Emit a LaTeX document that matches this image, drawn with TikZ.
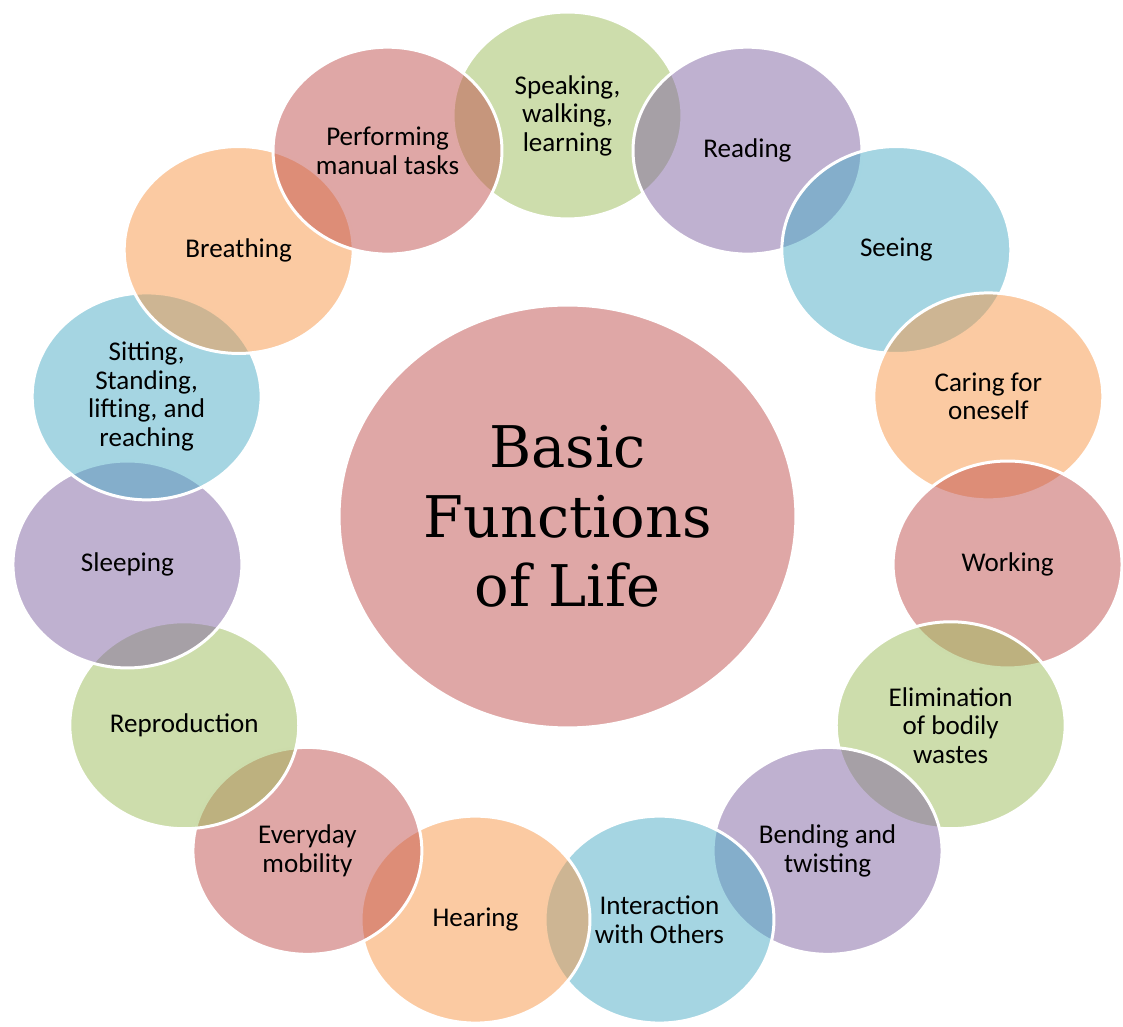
\documentclass[tikz,border=0pt]{standalone}
\usepackage{fontspec}
\setmainfont{Carlito}
\newfontfamily\centrefont{DejaVu Serif}
\usetikzlibrary{shapes.geometric}

\definecolor{accred}{HTML}{C0504D}
\definecolor{accgreen}{HTML}{9BBB59}
\definecolor{accpurple}{HTML}{8064A2}
\definecolor{accaqua}{HTML}{4BACC6}
\definecolor{accorange}{HTML}{F79646}

\begin{document}
\begin{tikzpicture}[x = 0.02cm, y = 0.02cm,
	bubble/.style = {ellipse, draw = white, line width = 1.7pt, fill opacity = 0.5, text opacity = 1,
		minimum width = 4.58cm, minimum height = 4.14cm, inner sep = 0pt, align = center,
		font = \fontsize{15.4pt}{16.2pt}\selectfont},
	hub/.style = {ellipse, draw = white, line width = 1.7pt, fill = accred, fill opacity = 0.5, text opacity = 1,
		minimum width = 9.14cm, minimum height = 8.46cm, inner sep = 0pt, align = center,
		font = \centrefont\fontsize{32.7pt}{39.7pt}\selectfont}]

	% Frame

	\useasboundingbox (-567.5, -505) rectangle (555.5, 522);

	% Centre

	\node [hub] (life) at (0, 5.5) {Basic\\Functions\\of Life};

	% Ring

	\foreach \ang/\col/\i/\txt in {
		90/accgreen/1/{Speaking,\\walking,\\learning},
		66/accpurple/2/{Reading},
		42/accaqua/3/{Seeing},
		18/accorange/4/{Caring for\\oneself},
		-6/accred/5/{Working},
		-30/accgreen/6/{Elimination\\of bodily\\wastes},
		-54/accpurple/7/{Bending and\\twisting},
		-78/accaqua/8/{Interaction\\with Others},
		-102/accorange/9/{Hearing},
		-126/accred/10/{Everyday\\mobility},
		-150/accgreen/11/{Reproduction},
		-174/accpurple/12/{Sleeping},
		-198/accaqua/13/{Sitting,\\Standing,\\lifting, and\\reaching},
		-222/accorange/14/{Breathing},
		-246/accred/15/{Performing\\manual tasks}}
		\node [bubble, fill = \col] (f\i) at (\ang : 442.5 and 406.5) {\txt};

\end{tikzpicture}
\end{document}
